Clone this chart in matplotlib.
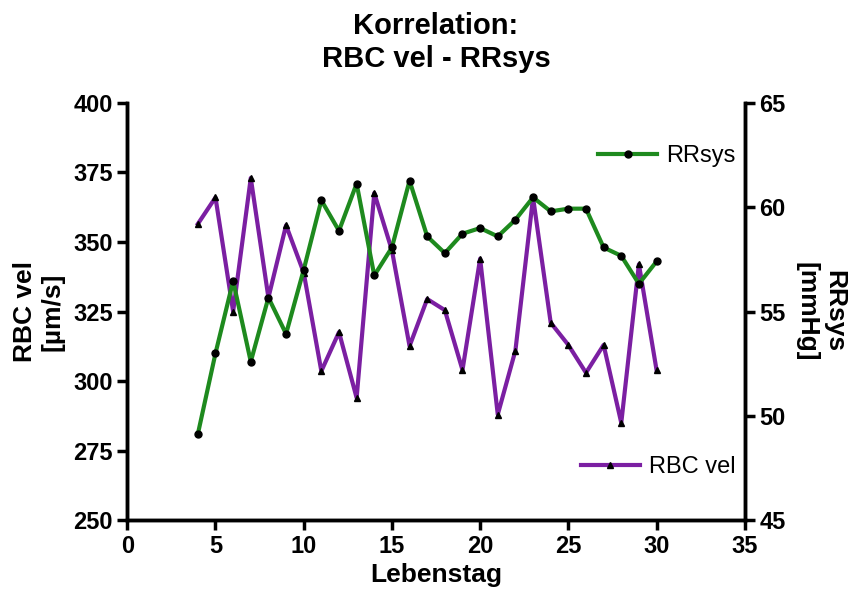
import matplotlib
matplotlib.use("Agg")
import matplotlib.pyplot as plt

days = list(range(4, 31))
rbc_vel = [356.5,366,325,373,330,356,339,303.6,317.6,294,367.6,347,312.6,329.5,325.5,304,344,288,311,366,321,313,303,313,285,342,304]
rrsys = [49.13,53.0,56.47,52.6,55.67,53.93,57.0,60.33,58.87,61.13,56.73,58.07,61.27,58.6,57.8,58.73,59.0,58.6,59.4,60.47,59.8,59.93,59.93,58.07,57.67,56.33,57.4]

plt.rcParams['font.family'] = ['Liberation Sans', 'DejaVu Sans']
fig = plt.figure(figsize=(8.6, 5.98), dpi=100)
ax = fig.add_axes([0.148, 0.130, 0.718, 0.698])
ax2 = ax.twinx()

l1, = ax.plot(days, rbc_vel, color='#7b1fa2', lw=3, marker='^', ms=5, mfc='black', mec='black', label='RBC vel')
l2, = ax2.plot(days, rrsys, color='#1e8a1e', lw=3, marker='o', ms=5, mfc='black', mec='black', label='RRsys')

ax.set_xlim(0, 35)
ax.set_ylim(250, 400)
ax2.set_ylim(45, 65)
ax.set_xticks(range(0, 36, 5))
ax.set_yticks(range(250, 401, 25))
ax2.set_yticks(range(45, 66, 5))
for a in (ax, ax2):
    a.spines['top'].set_visible(False)
    for s in a.spines.values():
        s.set_linewidth(2.5)
    a.tick_params(width=2.5, length=7, labelsize=17)
    for lab in a.get_xticklabels() + a.get_yticklabels():
        lab.set_fontweight('bold')

ax.set_xlabel('Lebenstag', fontsize=19, fontweight='bold')
ax.set_ylabel('RBC vel\n[µm/s]', fontsize=19, fontweight='bold', labelpad=6)
ax2.set_ylabel('RRsys\n[mmHg]', fontsize=19, fontweight='bold', rotation=270, labelpad=44)
ax.set_title('Korrelation:\nRBC vel - RRsys', fontsize=21, fontweight='bold', pad=26)

ax2.legend(handles=[l2], loc='upper right', bbox_to_anchor=(1.02, 0.95), frameon=False, fontsize=17, handlelength=2.5, handletextpad=0.4)
ax.legend(handles=[l1], loc='lower right', bbox_to_anchor=(1.02, 0.05), frameon=False, fontsize=17, handlelength=2.5, handletextpad=0.4)

fig.savefig('out.png', dpi=100)
